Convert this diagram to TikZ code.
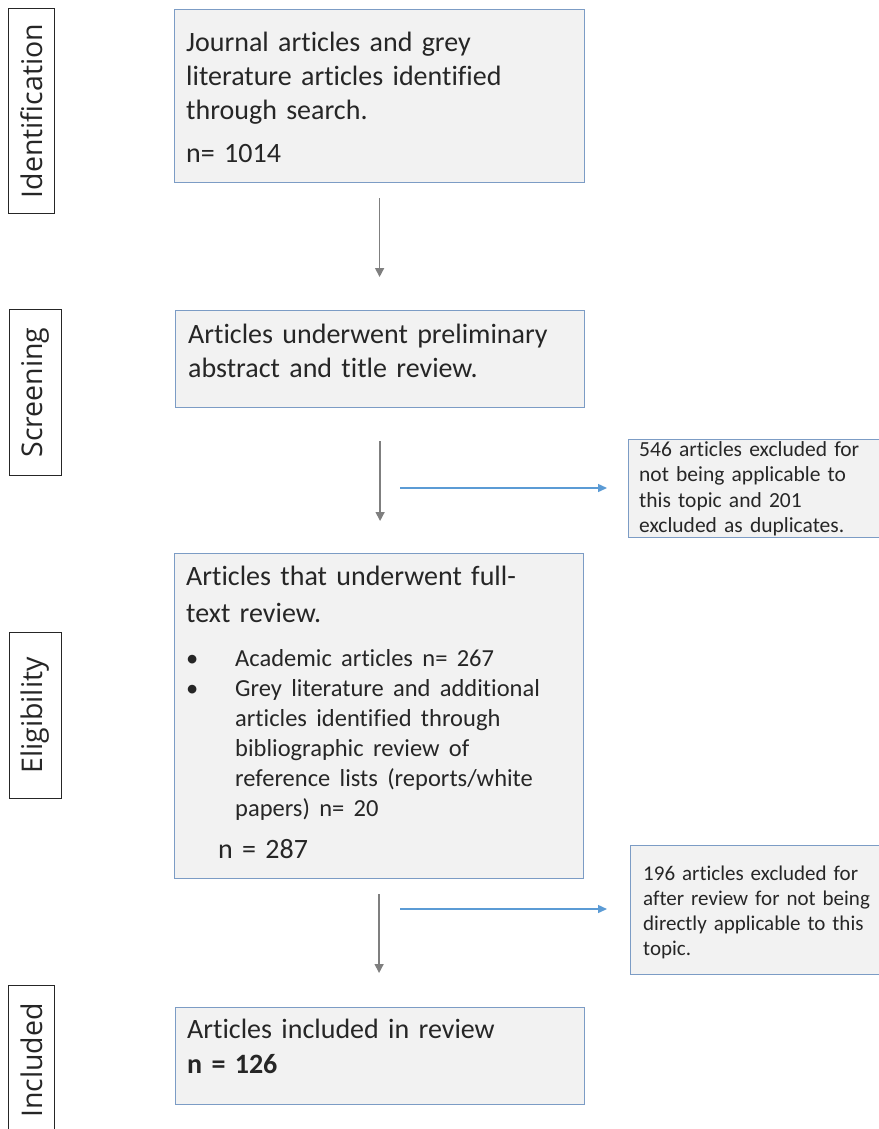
\documentclass[tikz,border=0pt]{standalone}
\usepackage{fontspec}
\setmainfont{Carlito}[Ligatures=NoCommon]
\newfontfamily\stagefont{Open Sans}
\usetikzlibrary{arrows.meta,calc}
\definecolor{boxfill}{HTML}{F2F2F2}
\definecolor{boxline}{HTML}{7C9CC5}
\definecolor{flowgray}{HTML}{7F7F7F}
\definecolor{flowblue}{HTML}{5B9BD5}
\definecolor{ink}{HTML}{262626}
% strut fixing the distance from a text node's top edge to its first baseline
\newcommand\firstline{\rule{0pt}{24pt}}
% smaller type for the bulleted items
\newcommand\itemsize{\fontsize{24.5}{30}\selectfont}
\begin{document}
\begin{tikzpicture}[x=1pt,y=-1pt,
  box/.style={draw=boxline, line width=1.2pt, fill=boxfill, anchor=north west, inner sep=0pt},
  sidebox/.style={box},
  boxtext/.style={anchor=north west, inner sep=0pt, align=left, text width=400pt, text=ink},
  stage/.style={draw=black!85, line width=1pt, anchor=north west, inner sep=0pt, text=ink,
                font=\stagefont\fontsize{28.5}{32}\selectfont},
  garrow/.style={draw=flowgray, line width=1.4pt, -{Triangle[width=9pt,length=9pt]}},
  barrow/.style={draw=flowblue, line width=1.4pt, -{Triangle[width=8pt,length=9pt]}}]
\useasboundingbox[fill=white] (0,0) rectangle (878,1129);

% stage labels on the left
\node[stage, minimum width=46pt, minimum height=205pt] (sid) at (8,8) {\rotatebox{90}{Identification}};
\node[stage, minimum width=52pt, minimum height=166pt] (sscr) at (9,309) {\rotatebox{90}{Screening}};
\node[stage, minimum width=52pt, minimum height=166pt] (selig) at (9,632) {\rotatebox{90}{Eligibility}};
\node[stage, minimum width=46pt, minimum height=150pt] (sinc) at (8,985) {\rotatebox{90}{Included}};

% main flow boxes
\node[box, minimum width=410pt, minimum height=173pt] (b1) at (174,9) {};
\node[box, minimum width=409pt, minimum height=97pt] (b2) at (175,310) {};
\node[box, minimum width=409pt, minimum height=325pt] (b3) at (174,553) {};
\node[box, minimum width=409pt, minimum height=97pt] (b4) at (175,1007) {};

% exclusion boxes on the right
\node[sidebox, minimum width=256pt, minimum height=98pt] (sA) at (628,439) {};
\node[sidebox, minimum width=254pt, minimum height=129pt] (sB) at (630,845) {};

% box texts
\node[boxtext, font=\fontsize{28}{34}\selectfont] (t1) at (186,27)
  {\firstline Journal articles and grey\\
   literature articles identified\\
   through search.\\[9pt]
   n= 1014};
\node[boxtext, font=\fontsize{28}{34}\selectfont] (t2) at (188,319)
  {\firstline Articles underwent preliminary\\
   abstract and title review.};
\node[boxtext, font=\fontsize{28}{30}\selectfont] (t3) at (186,561)
  {\firstline Articles that underwent full-\\[7pt]
   text review.\\[14pt]
   {\itemsize\makebox[49pt][l]{\textbullet}Academic articles n= 267}\\
   {\itemsize\makebox[49pt][l]{\textbullet}Grey literature and additional}\\
   {\itemsize\hspace*{49pt}articles identified through}\\
   {\itemsize\hspace*{49pt}bibliographic review of}\\
   {\itemsize\hspace*{49pt}reference lists (reports/white}\\
   {\itemsize\hspace*{49pt}papers) n= 20}\\[12pt]
   \hspace*{32pt}n = 287};
\node[boxtext, font=\fontsize{28}{35}\selectfont] (t4) at (187,1014)
  {\firstline Articles included in review\\
   \textbf{n = 126}};
\node[boxtext, text width=235pt, font=\fontsize{21.5}{25.5}\selectfont] (tA) at (639,432)
  {\firstline 546 articles excluded for\\
   not being applicable to\\
   this topic and 201\\
   excluded as duplicates.};
\node[boxtext, text width=235pt, font=\fontsize{21}{25}\selectfont] (tB) at (643,856)
  {\firstline 196 articles excluded for\\
   after review for not being\\
   directly applicable to this\\
   topic.};

% downward flow
\draw[garrow, shorten <=15pt, shorten >=33pt] (b1.south) -- (b1.south |- b2.north);
\draw[garrow, shorten <=33pt, shorten >=32pt] (b2.south) -- (b2.south |- b3.north);
\draw[garrow, shorten <=15pt, shorten >=34pt] (b3.south) -- (b3.south |- b4.north);

% exclusions
\coordinate (e1) at (400,488);
\coordinate (e2) at (400,909);
\draw[barrow, shorten >=21pt] (e1) -- (e1 -| sA.west);
\draw[barrow, shorten >=23pt] (e2) -- (e2 -| sB.west);
\end{tikzpicture}
\end{document}
